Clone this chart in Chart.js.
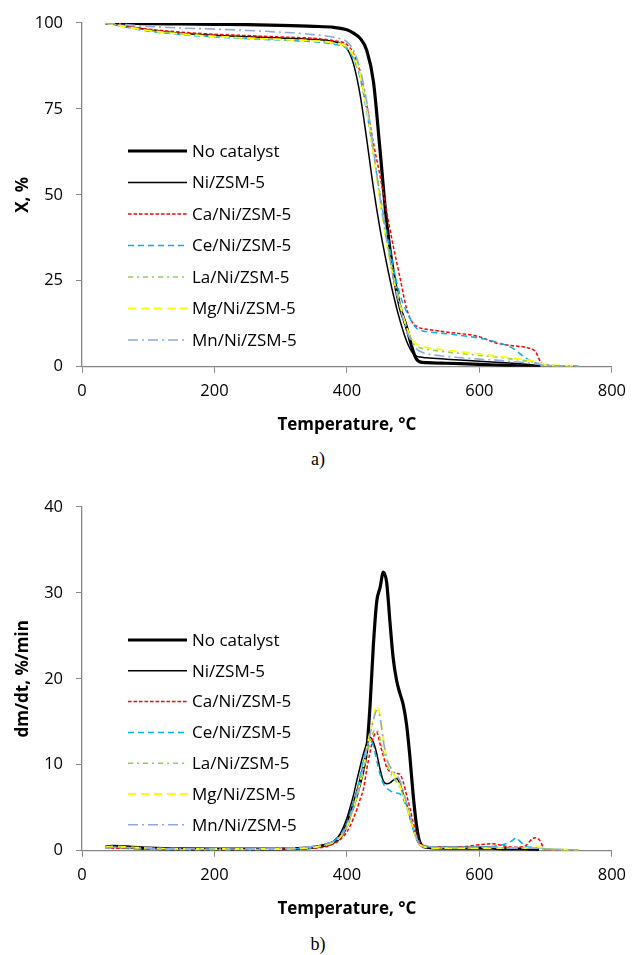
<!DOCTYPE html>
<html>
<head>
<meta charset="utf-8">
<script src="https://cdn.jsdelivr.net/npm/chart.js@4"></script>
<style>
  body { margin:0; background:#fff; width:635px; height:955px; position:relative; overflow:hidden; }
  canvas { position:absolute; left:0; }
  #tgChart { top:0; }
  #dtgChart { top:484px; }
  .cap { position:absolute; left:293px; width:50px; text-align:center; font-family:"Liberation Serif", serif; font-size:18px; }
</style>
</head>
<body>
<canvas id="tgChart" width="635" height="440"></canvas>
<div class="cap" style="top:449px">a)</div>
<canvas id="dtgChart" width="635" height="440"></canvas>
<div class="cap" style="top:934px">b)</div>
<script>
const seriesNames = ['No catalyst', 'Ni/ZSM-5', 'Ca/Ni/ZSM-5', 'Ce/Ni/ZSM-5', 'La/Ni/ZSM-5', 'Mg/Ni/ZSM-5', 'Mn/Ni/ZSM-5'];

// a) conversion X, %
const tgTemp = [35, 60, 100, 150, 200, 250, 300, 350, 380, 400, 410, 420, 430, 440, 450, 460, 470, 480, 490, 500, 505, 510, 520, 550, 600, 625, 650, 670, 685, 692, 700, 750];
const tgNoCat = [100, 99.9, 99.8, 99.7, 99.6, 99.5, 99.3, 99.0, 98.7, 98.0, 97.0, 95.5, 92, 83, 63, 42, 27.5, 17.5, 11.5, 4.5, 2.2, 1.4, 1.2, 1.0, 0.7, 0.5, 0.3, 0.15, 0.05, 0, null, null];
const tgNi = [100, 99.2, 98.0, 97.0, 96.4, 96.0, 95.6, 95.2, 94.6, 92.5, 88, 79, 66, 52, 40, 30, 21, 13.5, 7.5, 3.8, 3.1, 2.8, 2.6, 2.2, 1.6, 1.3, 1.0, 0.7, 0.4, 0.2, null, null];
const tgCa = [100, 99.3, 98.2, 97.3, 96.7, 96.3, 95.9, 95.5, 94.8, 93.7, 91, 85.5, 76, 65, 55.5, 45, 35, 26, 17, 12.5, 11.8, 11.3, 10.9, 10.1, 8.7, 6.9, 6.1, 5.6, 4.3, 1.5, 0.4, 0.2];
const tgCe = [100, 99.0, 97.6, 96.6, 95.9, 95.4, 95.0, 94.5, 93.8, 92.5, 89.5, 84, 74, 62, 50, 39, 29, 21, 16, 12.5, 11.2, 10.6, 10.2, 9.6, 8.3, 7.2, 5.4, 2.5, 1.1, 0.7, 0.4, 0.2];
const tgLa = [100, 99.1, 97.8, 96.8, 96.0, 95.5, 95.1, 94.7, 94.1, 92.8, 90, 84.5, 75, 62.5, 49, 37, 27, 18.5, 11.5, 7, 6.0, 5.5, 5.1, 4.3, 3.3, 2.8, 2.2, 1.7, 1.2, 0.8, 0.4, 0.2];
const tgMg = [100, 99.1, 97.8, 96.8, 96.1, 95.6, 95.2, 94.8, 94.2, 93.0, 90.5, 85, 75, 62, 48, 36, 26, 18, 11.5, 7.5, 6.6, 6.1, 5.6, 4.8, 3.7, 3.1, 2.5, 2.0, 1.5, 1.0, 0.5, 0.3];
const tgMn = [100, 99.6, 99.0, 98.5, 98.2, 97.8, 97.3, 96.6, 95.8, 94.5, 92, 86.5, 77, 63.5, 49, 37, 26, 17.5, 10.5, 6.5, 5.2, 4.5, 3.8, 3.0, 2.2, 1.9, 1.5, 1.2, 0.9, 0.6, 0.3, 0.2];

// b) dm/dt, %/min
const dtgTemp = [35, 45, 100, 200, 300, 350, 370, 380, 390, 400, 405, 410, 415, 420, 425, 430, 435, 440, 445, 450, 455, 460, 465, 470, 475, 480, 485, 490, 495, 500, 505, 510, 520, 550, 580, 600, 620, 640, 650, 655, 660, 670, 680, 685, 690, 700, 750];
const dtgNoCat = [0.4, 0.5, 0.3, 0.2, 0.2, 0.4, 0.7, 1.0, 1.6, 3.0, 4.2, 5.3, 6.6, 8.0, 9.6, 11.8, 17, 24, 29, 30.6, 32.4, 31.2, 26.6, 22.3, 19.8, 18.3, 17, 14.7, 11, 6.5, 3.0, 1.0, 0.4, 0.3, 0.3, 0.3, 0.3, 0.2, 0.2, 0.2, 0.2, 0.2, 0.1, 0.1, 0.1, null, null];
const dtgNi = [0.4, 0.4, 0.2, 0.1, 0.2, 0.4, 0.8, 1.1, 2.0, 3.8, 5.1, 6.5, 8.2, 9.8, 11.3, 12.5, 13.2, 12.6, 11.3, 9.5, 8.1, 7.8, 7.9, 8.2, 8.4, 7.8, 6.6, 5.4, 4.0, 2.6, 1.4, 0.7, 0.4, 0.3, 0.3, 0.3, 0.3, 0.3, 0.3, 0.3, 0.2, 0.2, 0.2, 0.1, 0.1, null, null];
const dtgCa = [0.3, 0.3, 0.2, 0.1, 0.2, 0.3, 0.5, 0.8, 1.3, 2.2, 2.9, 3.8, 4.8, 6.0, 7.2, 9.5, 11.5, 13.2, 13.8, 12.4, 11.0, 9.7, 9.2, 9.1, 9.0, 8.9, 8.0, 6.5, 5.0, 3.3, 2.0, 1.0, 0.5, 0.4, 0.5, 0.7, 0.8, 0.5, 0.4, 0.4, 0.4, 0.6, 1.4, 1.5, 1.3, 0.1, 0.1];
const dtgCe = [0.3, 0.4, 0.2, 0.1, 0.2, 0.4, 0.8, 1.1, 1.8, 3.2, 4.3, 5.6, 7.0, 8.7, 10.5, 12.0, 12.8, 12.2, 10.5, 8.9, 7.8, 7.3, 7.0, 6.8, 6.7, 6.6, 6.0, 5.1, 3.8, 2.5, 1.4, 0.8, 0.5, 0.4, 0.4, 0.4, 0.5, 0.8, 1.2, 1.5, 1.2, 0.5, 0.4, 0.3, 0.3, 0.2, 0.1];
const dtgLa = [0.3, 0.4, 0.2, 0.1, 0.2, 0.4, 0.7, 1.0, 1.6, 2.8, 3.8, 4.9, 6.2, 7.7, 9.3, 11.0, 12.6, 13.8, 14.1, 13.0, 11.5, 10.2, 9.2, 8.5, 8.0, 7.4, 6.4, 5.2, 4.0, 2.6, 1.4, 0.7, 0.4, 0.3, 0.3, 0.3, 0.4, 0.3, 0.3, 0.3, 0.3, 0.3, 0.4, 0.4, 0.3, 0.2, 0.1];
const dtgMg = [0.4, 0.5, 0.3, 0.2, 0.2, 0.4, 0.7, 1.0, 1.6, 2.8, 3.8, 5.0, 6.4, 8.0, 9.8, 12.0, 13.8, 15.5, 16.8, 15.8, 13.0, 10.8, 9.6, 9.0, 8.3, 7.6, 6.5, 5.2, 4.0, 2.6, 1.4, 0.7, 0.4, 0.3, 0.3, 0.3, 0.3, 0.3, 0.3, 0.3, 0.3, 0.3, 0.4, 0.5, 0.4, 0.2, 0.1];
const dtgMn = [0.3, 0.4, 0.3, 0.2, 0.3, 0.5, 0.8, 1.1, 1.7, 2.9, 3.9, 5.1, 6.5, 8.1, 9.8, 11.8, 13.5, 15.2, 16.3, 15.5, 12.8, 10.8, 9.8, 9.3, 8.8, 8.2, 7.0, 5.6, 4.2, 2.8, 1.5, 0.8, 0.5, 0.4, 0.4, 0.4, 0.4, 0.3, 0.3, 0.3, 0.3, 0.3, 0.3, 0.3, 0.3, 0.2, 0.1];

// line looks, same order as seriesNames
const lineStyles = [
  {color:'#000000', width:3.2, dash:[]},
  {color:'#000000', width:1.5, dash:[]},
  {color:'#FF0000', width:1.5, dash:[3.5,2]},
  {color:'#00B0F0', width:1.5, dash:[6,4]},
  {color:'#92D050', width:1.6, dash:[5,4,2,4]},
  {color:'#FFFF00', width:1.8, dash:[8,5]},
  {color:'#8EA9DB', width:1.6, dash:[10,4,2,4]}
];

const FONT = '"Open Sans", sans-serif';

// legend drawn inside the plot, Excel style
const insideLegend = {
  id: 'insideLegend',
  afterDraw(chart, args, opts) {
    const ctx = chart.ctx;
    chart.data.datasets.forEach((ds, i) => {
      const y = opts.top + i * opts.step;
      ctx.save();
      ctx.strokeStyle = ds.borderColor;
      ctx.lineWidth = ds.borderWidth;
      ctx.setLineDash(ds.borderDash);
      ctx.beginPath();
      ctx.moveTo(128, y);
      ctx.lineTo(187, y);
      ctx.stroke();
      ctx.setLineDash([]);
      ctx.fillStyle = '#000';
      ctx.font = '17px ' + FONT;
      ctx.textBaseline = 'middle';
      ctx.fillText(ds.label, 192, y + 1);
      ctx.restore();
    });
  }
};

function makeChart(id, temps, series, yMax, yStep, yTitle, legendTop, legendStep) {
  const datasets = series.map((vals, i) => ({
    label: seriesNames[i],
    data: temps.map((t, k) => ({x: t, y: vals[k]})).filter(p => p.y !== null),
    borderColor: lineStyles[i].color,
    borderWidth: lineStyles[i].width,
    borderDash: lineStyles[i].dash,
    pointRadius: 0,
    fill: false,
    cubicInterpolationMode: 'monotone',
    order: series.length - 1 - i
  }));

  return new Chart(document.getElementById(id), {
    type: 'line',
    data: {datasets: datasets},
    options: {
      responsive: false,
      animation: false,
      layout: {padding: {top: 20, right: 17, left: 0, bottom: 0}},
      plugins: {
        legend: {display: false},
        tooltip: {enabled: false},
        insideLegend: {top: legendTop, step: legendStep}
      },
      scales: {
        x: {
          type: 'linear',
          min: 0, max: 800,
          ticks: {stepSize: 200, padding: 9, color: '#000', font: {family: FONT, size: 16.5}},
          grid: {display: true, drawOnChartArea: false, drawTicks: true, tickLength: 6, color: '#868686'},
          border: {color: '#868686', width: 1.3},
          title: {display: true, text: 'Temperature, °C', color: '#000',
                  font: {family: FONT, size: 17, weight: 'bold'}, padding: {top: 0, bottom: 5}},
          afterFit(scale) { scale.height = 440 - 366.7; }
        },
        y: {
          min: 0, max: yMax,
          ticks: {stepSize: yStep, padding: 13, color: '#000', font: {family: FONT, size: 16.5}},
          grid: {display: true, drawOnChartArea: false, drawTicks: true, tickLength: 6, color: '#868686'},
          border: {color: '#868686', width: 1.3},
          title: {display: true, text: yTitle, color: '#000',
                  font: {family: FONT, size: 17, weight: 'bold'}, padding: {top: 13, bottom: 0}},
          afterFit(scale) { scale.width = 82; }
        }
      }
    },
    plugins: [insideLegend]
  });
}

makeChart('tgChart', tgTemp, [tgNoCat, tgNi, tgCa, tgCe, tgLa, tgMg, tgMn], 100, 25, 'X, %', 151, 31.5);
makeChart('dtgChart', dtgTemp, [dtgNoCat, dtgNi, dtgCa, dtgCe, dtgLa, dtgMg, dtgMn], 40, 10, 'dm/dt, %/min', 156, 30.8);
</script>
</body>
</html>
